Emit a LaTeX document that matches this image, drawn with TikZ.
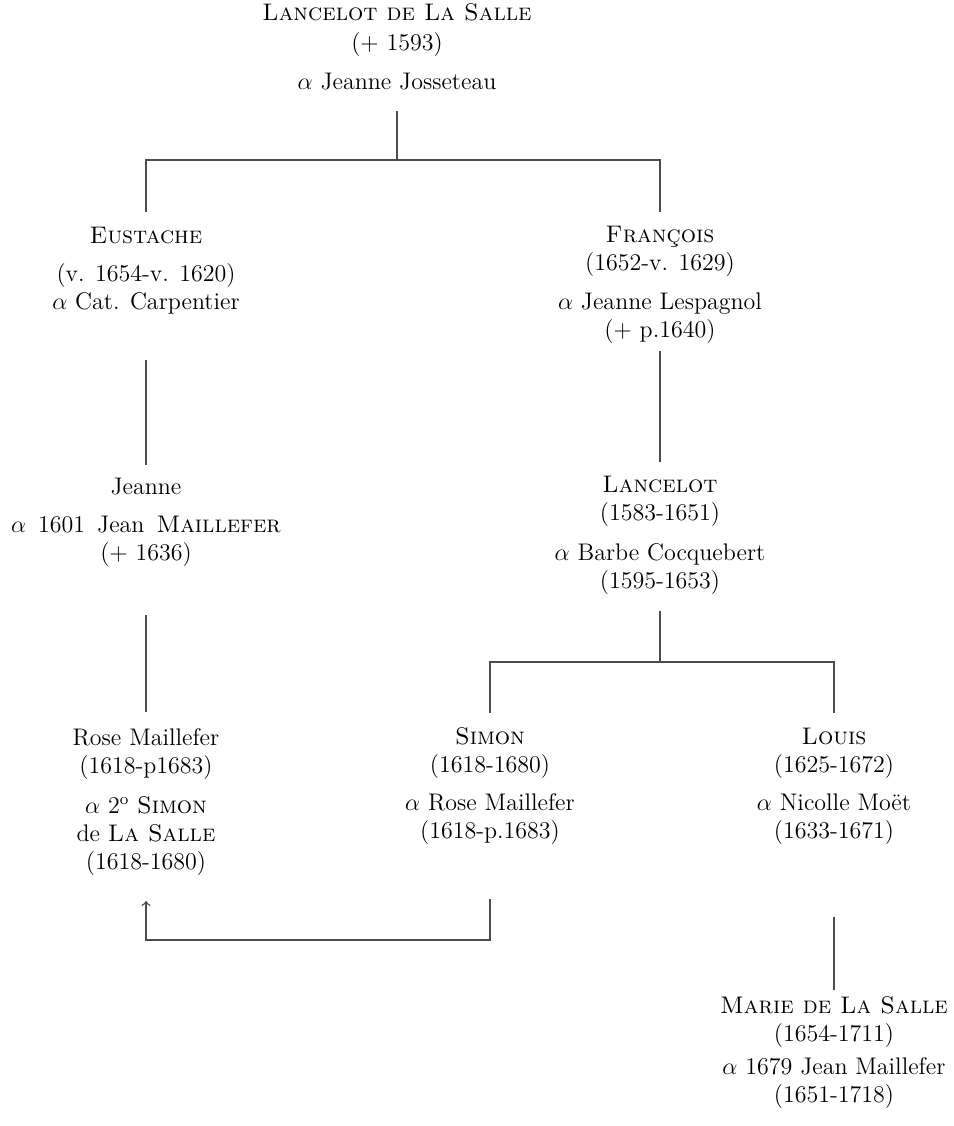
\documentclass[tikz,border=0pt]{standalone}
\usepackage{amsmath}
\usepackage{tikz}
\usetikzlibrary{calc}

\begin{document}
\begin{tikzpicture}[>=to,x=0.5pt,y=-0.5pt,
                        personne/.style={align=center,inner sep=0pt,anchor=north,
                            font=\fontsize{12}{14}\selectfont,
                            execute at begin node=\strut,execute at end node=\strut},
                        lien/.style={draw=black!70,line width=0.7pt}]
                        \useasboundingbox (0,0) rectangle (954,1126);
                        \node[personne] (ancetre) at (397,3.4) {\textsc{Lancelot de La Salle}\\[1pt]($+$ 1593)\\[5.5pt]$\alpha$ Jeanne Josseteau};
                        \node[personne] (eustache) at (146,226.4) {\textsc{Eustache}\\[5pt](v. 1654-v. 1620)\\$\alpha$ Cat. Carpentier};
                        \node[personne] (francois) at (660,225.4) {\textsc{François}\\(1652-v. 1629)\\[5.5pt]$\alpha$ Jeanne Lespagnol\\($+$ p.1640)};
                        \node[personne] (jeanne) at (146,477.4) {Jeanne\\[5pt]$\alpha$\enspace1601\enspace Jean\enspace\textsc{Maillefer}\\($+$ 1636)};
                        \node[personne] (lancelot) at (660,475.4) {\textsc{Lancelot}\\(1583-1651)\\[6pt]$\alpha$ Barbe Cocquebert\\(1595-1653)};
                        \node[personne] (rose) at (146,728.4) {Rose Maillefer\\(1618-p1683)\\[6pt]$\alpha$ 2\textsuperscript{o} \textsc{Simon}\\de \textsc{La Salle}\\(1618-1680)};
                        \node[personne] (simon) at (490,727.4) {\textsc{Simon}\\(1618-1680)\\[5pt]$\alpha$ Rose Maillefer\\(1618-p.1683)};
                        \node[personne] (louis) at (834,727.4) {\textsc{Louis}\\(1625-1672)\\[5pt]$\alpha$ Nicolle Moët\\(1633-1671)};
                        \node[personne] (marie) at (834,996.4) {\textsc{Marie de La Salle}\\(1654-1711)\\[2.5pt]$\alpha$ 1679 Jean Maillefer\\(1651-1718)};
                        \coordinate (j1) at (397,160);
                        \coordinate (j2) at (660,662);
                        \coordinate (j3) at (146,940);
                        \draw[lien] ([yshift=-6.3pt]ancetre.south) -- (j1);
                        \draw[lien] ([yshift=7.2pt]eustache.north) -- (eustache.north |- j1) -- (francois.north |- j1) -- ([yshift=6.7pt]francois.north);
                        \draw[lien] ([yshift=-20.8pt]eustache.south) -- ([yshift=6.2pt]jeanne.north);
                        \draw[lien] ([yshift=-2.3pt]francois.south) -- ([yshift=6.7pt]lancelot.north);
                        \draw[lien] ([yshift=-22.8pt]jeanne.south) -- ([yshift=8.2pt]rose.north);
                        \draw[lien] ([yshift=-6.8pt]lancelot.south) -- (j2);
                        \draw[lien] ([yshift=7.2pt]simon.north) -- (simon.north |- j2) -- (louis.north |- j2) -- ([yshift=7.2pt]louis.north);
                        \draw[lien,->] ([yshift=-25.8pt]simon.south) -- (simon.south |- j3) -- (j3) -- ([yshift=-11.3pt]rose.south);
                        \draw[lien] ([yshift=-34.8pt]louis.south) -- ([yshift=3.2pt]marie.north);
                    \end{tikzpicture}
\end{document}
